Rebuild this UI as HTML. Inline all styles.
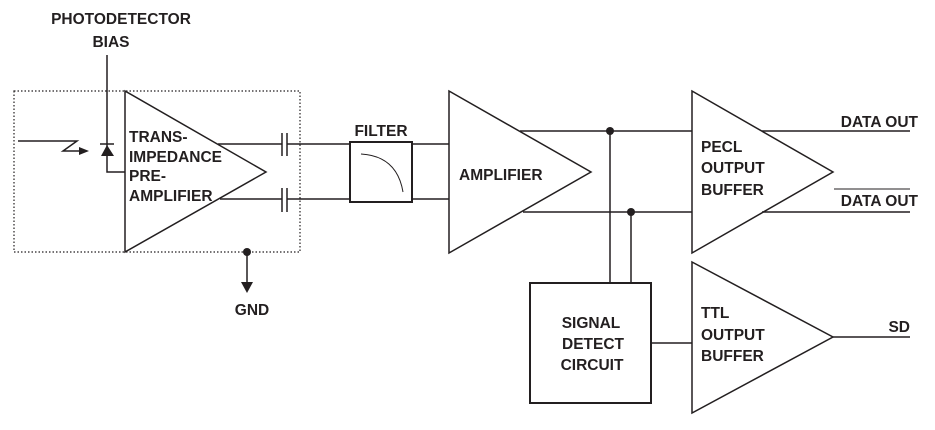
<!DOCTYPE html>
<html><head><style>
html,body{margin:0;padding:0;background:#fff;}
svg text{font-family:"Liberation Sans",sans-serif;font-weight:bold;font-size:15.5px;fill:#231f20;}
</style></head><body>
<svg width="935" height="425" viewBox="0 0 935 425" xmlns="http://www.w3.org/2000/svg" stroke="#231f20" fill="none" stroke-width="1.5">
<rect x="14" y="91" width="286" height="161" stroke-dasharray="1.5,2" stroke-width="1.2"/>
<polygon points="125,91 266,172 125,252" fill="#fff"/>
<text x="129" y="142" stroke="none">TRANS-</text>
<text x="129" y="162" stroke="none">IMPEDANCE</text>
<text x="129" y="181" stroke="none">PRE-</text>
<text x="129" y="201" stroke="none">AMPLIFIER</text>
<text x="121" y="24" stroke="none" text-anchor="middle">PHOTODETECTOR</text>
<text x="111" y="47" stroke="none" text-anchor="middle">BIAS</text>
<polyline points="107,55 107,172 125,172"/>
<polygon points="101,156 114,156 107,145" fill="#231f20" stroke="none"/>
<line x1="100" y1="144" x2="114" y2="144"/>
<polyline points="18,141 77,141 63,151 79,151"/>
<polygon points="79,147 89,151 79,155" fill="#231f20" stroke="none"/>
<line x1="218" y1="144" x2="282" y2="144"/><line x1="287" y1="144" x2="350" y2="144"/>
<line x1="220" y1="199" x2="282" y2="199"/><line x1="287" y1="199" x2="350" y2="199"/>
<line x1="282" y1="133" x2="282" y2="156"/><line x1="287" y1="133" x2="287" y2="156"/>
<line x1="282" y1="188" x2="282" y2="212"/><line x1="287" y1="188" x2="287" y2="212"/>
<circle cx="247" cy="252" r="4" fill="#231f20" stroke="none"/>
<line x1="247" y1="252" x2="247" y2="284"/>
<polygon points="241,282 253,282 247,293" fill="#231f20" stroke="none"/>
<text x="252" y="315" stroke="none" text-anchor="middle">GND</text>
<text x="381" y="136" stroke="none" text-anchor="middle">FILTER</text>
<rect x="350" y="142" width="62" height="60" stroke-width="2"/>
<path d="M361,154 Q397,156 403,192" stroke-width="1"/>
<line x1="412" y1="144" x2="449" y2="144"/>
<line x1="412" y1="199" x2="449" y2="199"/>
<polygon points="449,91 591,172 449,253" fill="#fff"/>
<text x="459" y="180" stroke="none">AMPLIFIER</text>
<line x1="520" y1="131" x2="692" y2="131"/>
<line x1="523" y1="212" x2="692" y2="212"/>
<circle cx="610" cy="131" r="4" fill="#231f20" stroke="none"/>
<circle cx="631" cy="212" r="4" fill="#231f20" stroke="none"/>
<line x1="610" y1="131" x2="610" y2="283"/>
<line x1="631" y1="212" x2="631" y2="283"/>
<rect x="530" y="283" width="121" height="120" stroke-width="2"/>
<text x="591" y="328" stroke="none" text-anchor="middle">SIGNAL</text>
<text x="593" y="349" stroke="none" text-anchor="middle">DETECT</text>
<text x="592" y="370" stroke="none" text-anchor="middle">CIRCUIT</text>
<line x1="651" y1="343" x2="692" y2="343"/>
<polygon points="692,91 833,172 692,253" fill="#fff"/>
<text x="701" y="152" stroke="none">PECL</text>
<text x="701" y="173" stroke="none">OUTPUT</text>
<text x="701" y="195" stroke="none">BUFFER</text>
<line x1="762" y1="131" x2="910" y2="131"/>
<line x1="762" y1="212" x2="910" y2="212"/>
<text x="918" y="127" stroke="none" text-anchor="end">DATA OUT</text>
<text x="918" y="206" stroke="none" text-anchor="end">DATA OUT</text>
<line x1="834" y1="189" x2="910" y2="189" stroke-width="1"/>
<polygon points="692,262 833,337 692,413" fill="#fff"/>
<text x="701" y="318" stroke="none">TTL</text>
<text x="701" y="340" stroke="none">OUTPUT</text>
<text x="701" y="361" stroke="none">BUFFER</text>
<line x1="833" y1="337" x2="910" y2="337"/>
<text x="910" y="332" stroke="none" text-anchor="end">SD</text>
</svg>
</body></html>
